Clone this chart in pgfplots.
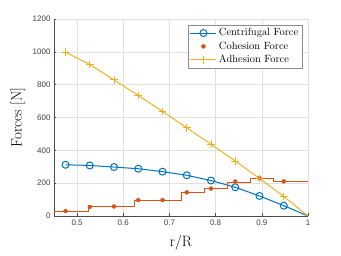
\documentclass[border=0pt]{standalone}
\usepackage{fontspec}
\usepackage{pgfplots}
\pgfplotsset{compat=1.18}
\newfontfamily\ticksf{Liberation Sans}
\definecolor{mblue}{rgb}{0,0.447,0.741}
\definecolor{morange}{rgb}{0.85,0.325,0.098}
\definecolor{myellow}{rgb}{0.929,0.694,0.125}
\begin{document}
\begin{tikzpicture}
\begin{axis}[
  scale only axis, width=254bp, height=197bp,
  xmin=0.45, xmax=1, ymin=0, ymax=1200,
  xtick={0.5,0.6,0.7,0.8,0.9,1}, ytick={0,200,400,600,800,1000,1200},
  xticklabels={0.5,0.6,0.7,0.8,0.9,1},
  /pgf/number format/1000 sep={},
  /pgf/number format/assume math mode=true,
  scaled ticks=false,
  axis lines=left, axis line style={-, color=black!70, line width=0.5pt},
  tick align=inside, major tick length=2.5bp, tick style={black!70, line width=0.4pt},
  grid=major, grid style={black!12, line width=0.4pt},
  tick label style={font=\ticksf\fontsize{8}{9}\selectfont, text=black!75},
  xlabel={r/R}, ylabel={Forces [N]},
  label style={font=\fontsize{15}{18}\selectfont},
  xlabel style={at={(rel axis cs:0.5,0)}, anchor=center, yshift=-27bp},
  ylabel style={at={(rel axis cs:0,0.5)}, anchor=center, rotate=0, yshift=36bp},
  legend style={at={(rel axis cs:0.976,0.97)}, anchor=north east, draw=black!45, fill=white,
    font=\fontsize{10.5}{12}\selectfont, inner sep=1.5pt, row sep=0.5pt, line width=0.4pt},
  legend cell align=left,
  legend image code/.code={\draw[mark repeat=2,mark phase=2,#1] plot coordinates {(0bp,0bp) (13bp,0bp) (26bp,0bp)};},
]
\addplot[mblue, line width=1pt, mark=o, mark size=3.5bp, mark options={line width=1pt}, mark indices={1,...,10}, legend image post style={mark indices={2}}] coordinates {
 (0.475,312) (0.5275,308) (0.58,298) (0.6325,288) (0.685,270) (0.7375,248) (0.79,216) (0.8425,175) (0.895,122) (0.9475,63) (1.0,0)
};
\addlegendentry{Centrifugal Force}
\addplot[only marks, morange, mark=*, mark size=2bp] coordinates {
 (0.475,30) (0.5275,55) (0.58,58) (0.6325,97) (0.685,97) (0.7375,144) (0.79,167) (0.8425,210) (0.895,230) (0.9475,211)
};
\addlegendentry{Cohesion Force}
\addplot[myellow, line width=1pt, mark=+, mark size=3.8bp, mark options={line width=1pt}, mark indices={1,...,10}, legend image post style={mark indices={2}}] coordinates {
 (0.475,998) (0.5275,923) (0.58,829) (0.6325,734) (0.685,637) (0.7375,537) (0.79,437) (0.8425,335) (0.895,229) (0.9475,119) (1.0,0)
};
\addlegendentry{Adhesion Force}
\addplot[const plot, morange, line width=1pt, forget plot] coordinates {
 (0.45,30) (0.525,57) (0.625,97) (0.725,144) (0.775,166) (0.825,204) (0.875,231) (0.925,211) (1.0,211)
};
\coordinate (SW) at (rel axis cs:0,0);
\end{axis}
\path ([xshift=-54bp,yshift=-40bp]SW) rectangle ([xshift=287bp,yshift=216bp]SW);
\end{tikzpicture}
\end{document}
